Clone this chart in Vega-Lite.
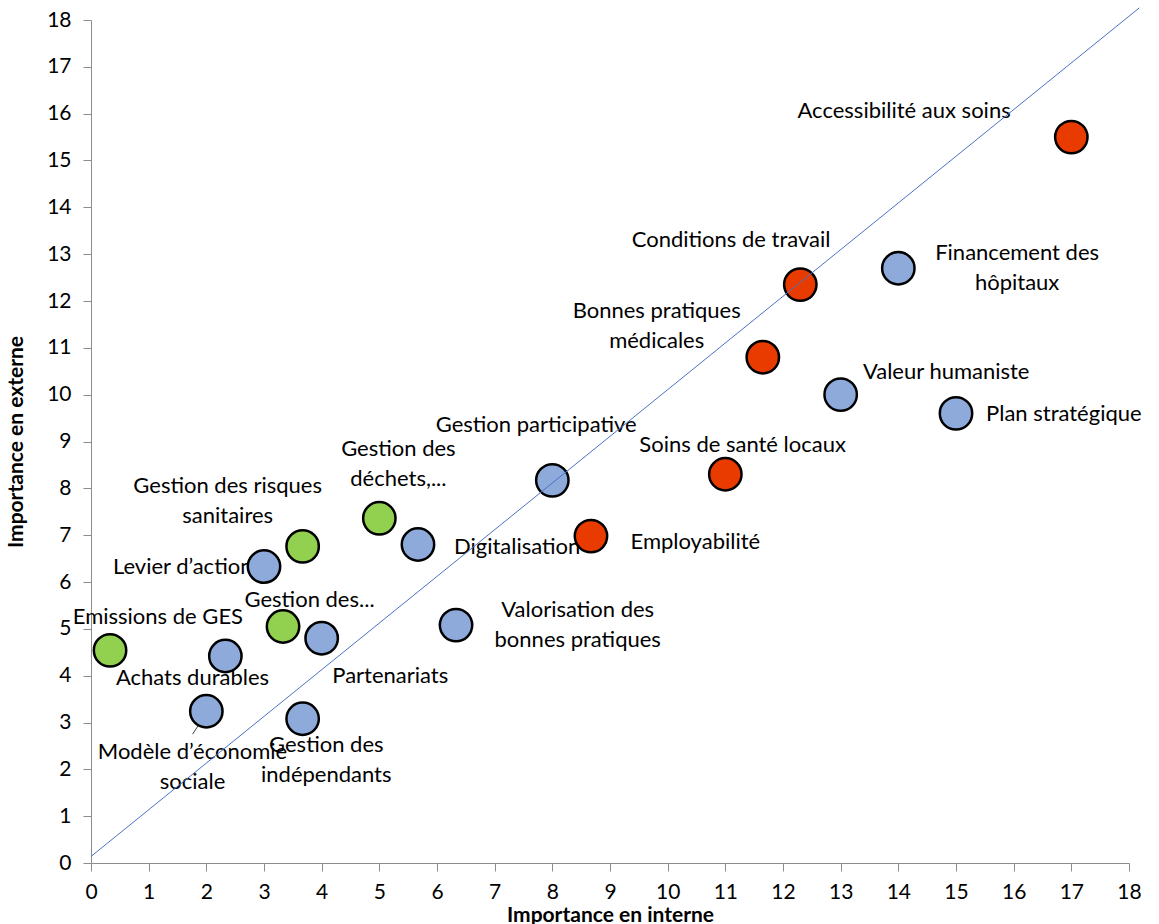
{
  "$schema": "https://vega.github.io/schema/vega-lite/v6.json",
  "width": 1038,
  "height": 843,
  "autosize": "none",
  "padding": {"left": 91, "top": 20, "right": 30, "bottom": 61},
  "background": "white",
  "config": {
    "view": {"stroke": null},
    "font": "Lato",
    "axis": {"grid": false, "domainColor": "#8c8c8c", "tickColor": "#8c8c8c", "tickSize": 8, "labelFont": "Lato", "labelFontSize": 21, "labelColor": "#000000", "titleFont": "Lato", "titleFontSize": 21, "titleFontWeight": "bold", "titleColor": "#000000"}
  },
  "datasets": {
    "points": [
      {"name": "Accessibilité aux soins", "x": 17, "y": 15.5, "group": "rouge"},
      {"name": "Financement des hôpitaux", "x": 14, "y": 12.7, "group": "bleu"},
      {"name": "Conditions de travail", "x": 12.3, "y": 12.35, "group": "rouge"},
      {"name": "Bonnes pratiques médicales", "x": 11.65, "y": 10.8, "group": "rouge"},
      {"name": "Valeur humaniste", "x": 13, "y": 10.0, "group": "bleu"},
      {"name": "Plan stratégique", "x": 15, "y": 9.6, "group": "bleu"},
      {"name": "Soins de santé locaux", "x": 11, "y": 8.3, "group": "rouge"},
      {"name": "Gestion participative", "x": 8, "y": 8.17, "group": "bleu"},
      {"name": "Employabilité", "x": 8.67, "y": 6.98, "group": "rouge"},
      {"name": "Gestion des déchets,...", "x": 5, "y": 7.36, "group": "vert"},
      {"name": "Digitalisation", "x": 5.67, "y": 6.8, "group": "bleu"},
      {"name": "Gestion des risques sanitaires", "x": 3.67, "y": 6.76, "group": "vert"},
      {"name": "Levier d’action", "x": 3, "y": 6.33, "group": "bleu"},
      {"name": "Gestion des...", "x": 3.33, "y": 5.05, "group": "vert"},
      {"name": "Partenariats", "x": 4, "y": 4.8, "group": "bleu"},
      {"name": "Valorisation des bonnes pratiques", "x": 6.33, "y": 5.08, "group": "bleu"},
      {"name": "Emissions de GES", "x": 0.33, "y": 4.54, "group": "vert"},
      {"name": "Achats durables", "x": 2.33, "y": 4.42, "group": "bleu"},
      {"name": "Modèle d’économie sociale", "x": 2, "y": 3.24, "group": "bleu"},
      {"name": "Gestion des indépendants", "x": 3.67, "y": 3.08, "group": "bleu"}
    ],
    "labels": [
      {"text": "Accessibilité aux soins", "lx": 14.1, "ly": 16.05},
      {"text": "Conditions de travail", "lx": 11.1, "ly": 13.3},
      {"text": "Financement des\nhôpitaux", "lx": 16.06, "ly": 13.03},
      {"text": "Bonnes pratiques\nmédicales", "lx": 9.81, "ly": 11.79},
      {"text": "Valeur humaniste", "lx": 14.83, "ly": 10.49},
      {"text": "Plan stratégique", "lx": 16.87, "ly": 9.59},
      {"text": "Gestion participative", "lx": 7.72, "ly": 9.36},
      {"text": "Soins de santé locaux", "lx": 11.3, "ly": 8.93},
      {"text": "Gestion des\ndéchets,...", "lx": 5.33, "ly": 8.84},
      {"text": "Gestion des risques\nsanitaires", "lx": 2.37, "ly": 8.05},
      {"text": "Digitalisation", "lx": 7.39, "ly": 6.75},
      {"text": "Employabilité", "lx": 10.48, "ly": 6.86},
      {"text": "Levier d’action", "lx": 1.59, "ly": 6.32},
      {"text": "Gestion des...", "lx": 3.79, "ly": 5.62},
      {"text": "Emissions de GES", "lx": 1.16, "ly": 5.26},
      {"text": "Valorisation des\nbonnes pratiques", "lx": 8.44, "ly": 5.41},
      {"text": "Achats durables", "lx": 1.76, "ly": 3.95},
      {"text": "Partenariats", "lx": 5.19, "ly": 4.0},
      {"text": "Modèle d’économie\nsociale", "lx": 1.76, "ly": 2.38},
      {"text": "Gestion des\nindépendants", "lx": 4.08, "ly": 2.53}
    ],
    "leader": [{"x": 1.76, "y": 2.75, "x2": 2.0, "y2": 3.19}],
    "diagonal": [{"x": 0, "y": 0.14, "x2": 18.18, "y2": 18.26}]
  },
  "layer": [
    {
      "data": {"name": "labels"},
      "mark": {"type": "text", "fontSize": 22, "lineBreak": "\n", "lineHeight": 30, "align": "center", "baseline": "middle", "color": "#000000"},
      "encoding": {
        "x": {"field": "lx", "type": "quantitative", "scale": {"domain": [0, 18], "nice": false, "zero": false}, "axis": {"values": [0,1,2,3,4,5,6,7,8,9,10,11,12,13,14,15,16,17,18], "format": "d", "title": "Importance en interne", "labelPadding": 10, "titlePadding": 2, "labelFlush": false}},
        "y": {"field": "ly", "type": "quantitative", "scale": {"domain": [0, 18], "nice": false, "zero": false}, "axis": {"values": [0,1,2,3,4,5,6,7,8,9,10,11,12,13,14,15,16,17,18], "format": "d", "title": "Importance en externe", "labelPadding": 12, "titlePadding": 20, "labelFlush": false}},
        "text": {"field": "text"}
      }
    },
    {
      "data": {"name": "leader"},
      "mark": {"type": "rule", "color": "#404040", "strokeWidth": 1},
      "encoding": {
        "x": {"field": "x", "type": "quantitative"},
        "y": {"field": "y", "type": "quantitative"},
        "x2": {"field": "x2"},
        "y2": {"field": "y2"}
      }
    },
    {
      "data": {"name": "points"},
      "mark": {"type": "circle", "size": 1050, "opacity": 1, "stroke": "#000000", "strokeWidth": 2.5},
      "encoding": {
        "x": {"field": "x", "type": "quantitative"},
        "y": {"field": "y", "type": "quantitative"},
        "color": {"field": "group", "type": "nominal", "scale": {"domain": ["rouge", "bleu", "vert"], "range": ["#e93b00", "#8eaadb", "#92d050"]}, "legend": null}
      }
    },
    {
      "data": {"name": "diagonal"},
      "mark": {"type": "rule", "color": "#4a72c4", "strokeWidth": 1, "clip": false},
      "encoding": {
        "x": {"field": "x", "type": "quantitative"},
        "y": {"field": "y", "type": "quantitative"},
        "x2": {"field": "x2"},
        "y2": {"field": "y2"}
      }
    }
  ]
}
